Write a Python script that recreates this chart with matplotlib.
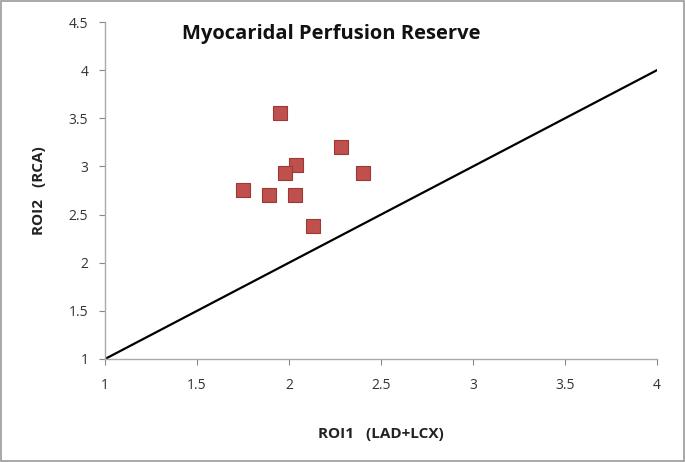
import matplotlib
matplotlib.use("Agg")
from matplotlib import pyplot as plt
import numpy as np

# values
roi1 = [1.95, 2.28, 2.04, 1.98, 2.40, 1.75, 1.89, 2.03, 2.13]
roi2 = [3.55, 3.20, 3.02, 2.93, 2.93, 2.76, 2.70, 2.70, 2.38]
identity = [1, 4]

xticks = [1, 1.5, 2, 2.5, 3, 3.5, 4]
yticks = [1, 1.5, 2, 2.5, 3, 3.5, 4, 4.5]

plt.rcParams['font.family'] = ['Open Sans', 'DejaVu Sans']

fig = plt.figure(figsize=(6.85, 4.62), dpi=100)
ax = fig.add_axes([105/685, 103/462, 552/685, 337/462])

ax.plot(identity, identity, color='black', lw=1.6, zorder=2)
ax.scatter(roi1, roi2, marker='s', s=95, color='#c0504d', edgecolors='#9c3a37',
           linewidths=0.8, zorder=3)

ax.set_xlim(1, 4)
ax.set_ylim(1, 4.5)
ax.set_xticks(xticks)
ax.set_yticks(yticks)
ax.set_xticklabels(['1', '1.5', '2', '2.5', '3', '3.5', '4'])
ax.set_yticklabels(['1', '1.5', '2', '2.5', '3', '3.5', '4', '4.5'])
ax.tick_params(colors='#888888', labelcolor='#333333', labelsize=10, length=4, width=0.8)
ax.tick_params(axis='x', pad=10)
ax.tick_params(axis='y', pad=8)

for s in ['top', 'right']:
    ax.spines[s].set_visible(False)
for s in ['left', 'bottom']:
    ax.spines[s].set_color('#aaaaaa')
    ax.spines[s].set_linewidth(1.0)

ax.set_xlabel('ROI1   (LAD+LCX)', fontsize=11, fontweight='bold', color='#222222', labelpad=24)
ax.set_ylabel('ROI2   (RCA)', fontsize=11, fontweight='bold', color='#222222', labelpad=16)
ax.text(0.41, 0.965, 'Myocaridal Perfusion Reserve', transform=ax.transAxes,
        ha='center', va='center', fontsize=14.5, fontweight='bold', color='#111111')

# outer frame
fig.patches.append(plt.Rectangle((0.002, 0.003), 0.996, 0.994, transform=fig.transFigure,
                                 fill=False, edgecolor='#999999', lw=1.2))

fig.savefig('out.png', dpi=100)
